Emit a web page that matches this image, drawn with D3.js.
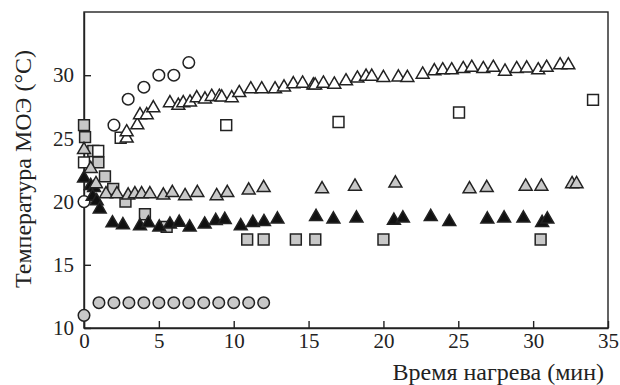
<!DOCTYPE html>
<html>
<head>
<meta charset="utf-8">
<script src="https://cdn.jsdelivr.net/npm/d3@7"></script>
<style>
  body { margin: 0; background: #fff; }
  svg { display: block; }
</style>
</head>
<body>
<div id="chart"></div>
<script>
// data: [time (min), temperature (°C)]
const openCircles = [[0, 20], [2, 26.05], [2.95, 28.1], [4, 29.05], [5, 30], [6, 30], [7, 31]];
const grayCircles = [[0, 11], [1, 12], [2, 12], [3, 12], [4, 12], [5, 12], [6, 12],
                     [7, 12], [8, 12], [9, 12], [10, 12], [11, 12], [12, 12]];
const openSquares = [[0, 23.1], [0.95, 24], [2.45, 25.05], [9.5, 26.05], [17, 26.3], [25.05, 27.05], [34, 28.05]];
const graySquares = [[0, 26.05], [0.07, 25.1], [0.62, 24], [0.96, 23.1], [1.4, 22], [1.95, 21],
                     [2.77, 20], [4.07, 19], [5.52, 18], [10.9, 17], [12, 17], [14.15, 17],
                     [15.45, 17], [20, 17], [30.5, 17]];
const openTriangles = [[2.85, 25], [2.85, 25.5], [3.56, 26.05], [3.74, 26.85], [4.19, 26.85], [4.63, 27.4],
                       [5.74, 27.8], [6.3, 27.6], [6.63, 27.8], [7.08, 27.85], [7.53, 28.2], [8.08, 28.1],
                       [8.53, 28.3], [9.04, 28.3], [9.2, 28.25], [9.87, 28.2], [10.37, 28.6], [11.14, 28.9],
                       [11.87, 28.9], [12.76, 28.9], [13.36, 29.05], [13.98, 29.3], [14.6, 29.35],
                       [15.32, 29.2], [15.44, 29.2], [15.99, 29.35], [16.72, 29.27], [17.5, 29.53],
                       [18.26, 29.75], [18.84, 29.9], [19.22, 29.9], [20, 29.8], [21, 29.84], [21.6, 29.8],
                       [22.62, 30.06], [23.4, 30.33], [23.96, 30.4], [24.56, 30.4], [25.33, 30.5],
                       [25.9, 30.6], [26.67, 30.5], [27.34, 30.6], [28.12, 30.3], [28.9, 30.5],
                       [29.57, 30.55], [30.34, 30.4], [30.9, 30.6], [31.8, 30.8], [32.35, 30.8]];
const grayTriangles = [[0, 24.1], [0.45, 22.6], [0.8, 21.4], [1.47, 20.6], [2.2, 20.6], [2.95, 20.5],
                       [3.4, 20.6], [3.85, 20.6], [4.4, 20.6], [5.3, 20.5], [5.9, 20.7], [6.75, 20.45],
                       [7.57, 20.7], [8.86, 20.45], [9.57, 20.7], [11, 20.9], [12, 21.1], [15.9, 21],
                       [18.1, 21.2], [20.8, 21.45], [25.75, 21], [26.9, 21.1], [29.5, 21.2],
                       [30.55, 21.2], [32.6, 21.4], [32.9, 21.4]];
const blackTriangles = [[0, 21.85], [0.45, 21.25], [0.67, 21.1], [0.58, 20.4], [0.85, 20.05], [1.05, 19.4],
                        [1.9, 18.3], [2.6, 18.15], [3.74, 18.07], [4.3, 18.3], [5.03, 17.97], [5.74, 18.2],
                        [6.36, 18.35], [7.06, 17.97], [8.06, 18.2], [8.8, 18.48], [9.4, 18.57],
                        [10.47, 18.07], [11.28, 18.33], [12.02, 18.4], [12.92, 18.6], [15.5, 18.8],
                        [16.66, 18.6], [18.2, 18.68], [20.7, 18.5], [21.3, 18.68], [23.16, 18.8],
                        [24.4, 18.4], [26.94, 18.6], [28.06, 18.68], [29.35, 18.68], [30.6, 18.33],
                        [30.95, 18.6]];
const xTicks = [0, 5, 10, 15, 20, 25, 30, 35];
const yTicks = [10, 15, 20, 25, 30];

const width = 620, height = 385;
const margin = {top: 12, right: 12, bottom: 57, left: 84};
const serif = "'Liberation Serif', 'DejaVu Serif', serif";

const svg = d3.select("#chart")
              .append("svg")
              .attr("width", width)
              .attr("height", height);

const x = d3.scaleLinear()
            .domain([0, 35])
            .range([margin.left, width - margin.right]);

const y = d3.scaleLinear()
            .domain([10, 35])
            .range([height - margin.bottom, margin.top]);

// frame
svg.append("rect")
   .attr("x", margin.left)
   .attr("y", margin.top)
   .attr("width", width - margin.left - margin.right)
   .attr("height", height - margin.top - margin.bottom)
   .style("fill", "none")
   .style("stroke", "#222")
   .style("stroke-width", 1.4);

function styleAxis(g) {
  g.selectAll("line").style("stroke", "#222").style("stroke-width", 1.4);
  g.selectAll("path").style("stroke", "#222").style("stroke-width", 1.4);
  g.selectAll("text")
   .style("font-family", serif)
   .style("font-size", "21px")
   .style("fill", "#222");
}

svg.append("g")
   .attr("transform", "translate(0," + (height - margin.bottom) + ")")
   .call(d3.axisBottom(x).tickValues(xTicks).tickSizeInner(-7).tickSizeOuter(0).tickPadding(4))
   .call(styleAxis)
   .call(g => g.selectAll("text").attr("dy", "0.78em"));

svg.append("g")
   .attr("transform", "translate(" + margin.left + ",0)")
   .call(d3.axisLeft(y).tickValues(yTicks).tickSizeInner(-7).tickSizeOuter(0).tickPadding(10))
   .call(styleAxis);

svg.append("text")
   .attr("transform", "translate(31," + 169 + ") rotate(-90)")
   .attr("text-anchor", "middle")
   .style("font-family", serif)
   .style("font-size", "24px")
   .style("fill", "#222")
   .text("Температура МОЭ (°C)");

svg.append("text")
   .attr("x", 604)
   .attr("y", 380)
   .attr("text-anchor", "end")
   .style("font-family", serif)
   .style("font-size", "24px")
   .style("fill", "#222")
   .text("Время нагрева (мин)");

function drawSeries(data, shape, size, fill) {
  svg.append("g")
     .selectAll("path")
     .data(data)
     .enter().append("path")
     .attr("transform", d => "translate(" + x(d[0]) + "," + y(d[1]) + ")")
     .attr("d", d3.symbol().type(shape).size(size))
     .style("fill", fill)
     .style("stroke", "#222")
     .style("stroke-width", 1.5);
}

drawSeries(graySquares, d3.symbolSquare, 118, "#c8c8c8");
drawSeries(openSquares, d3.symbolSquare, 118, "#fff");
drawSeries(grayCircles, d3.symbolCircle, 105, "#c8c8c8");
drawSeries(openCircles, d3.symbolCircle, 105, "#fff");
drawSeries(blackTriangles, d3.symbolTriangle, 72, "#111");
drawSeries(grayTriangles, d3.symbolTriangle, 72, "#c8c8c8");
drawSeries(openTriangles, d3.symbolTriangle, 72, "#fff");
</script>
</body>
</html>
